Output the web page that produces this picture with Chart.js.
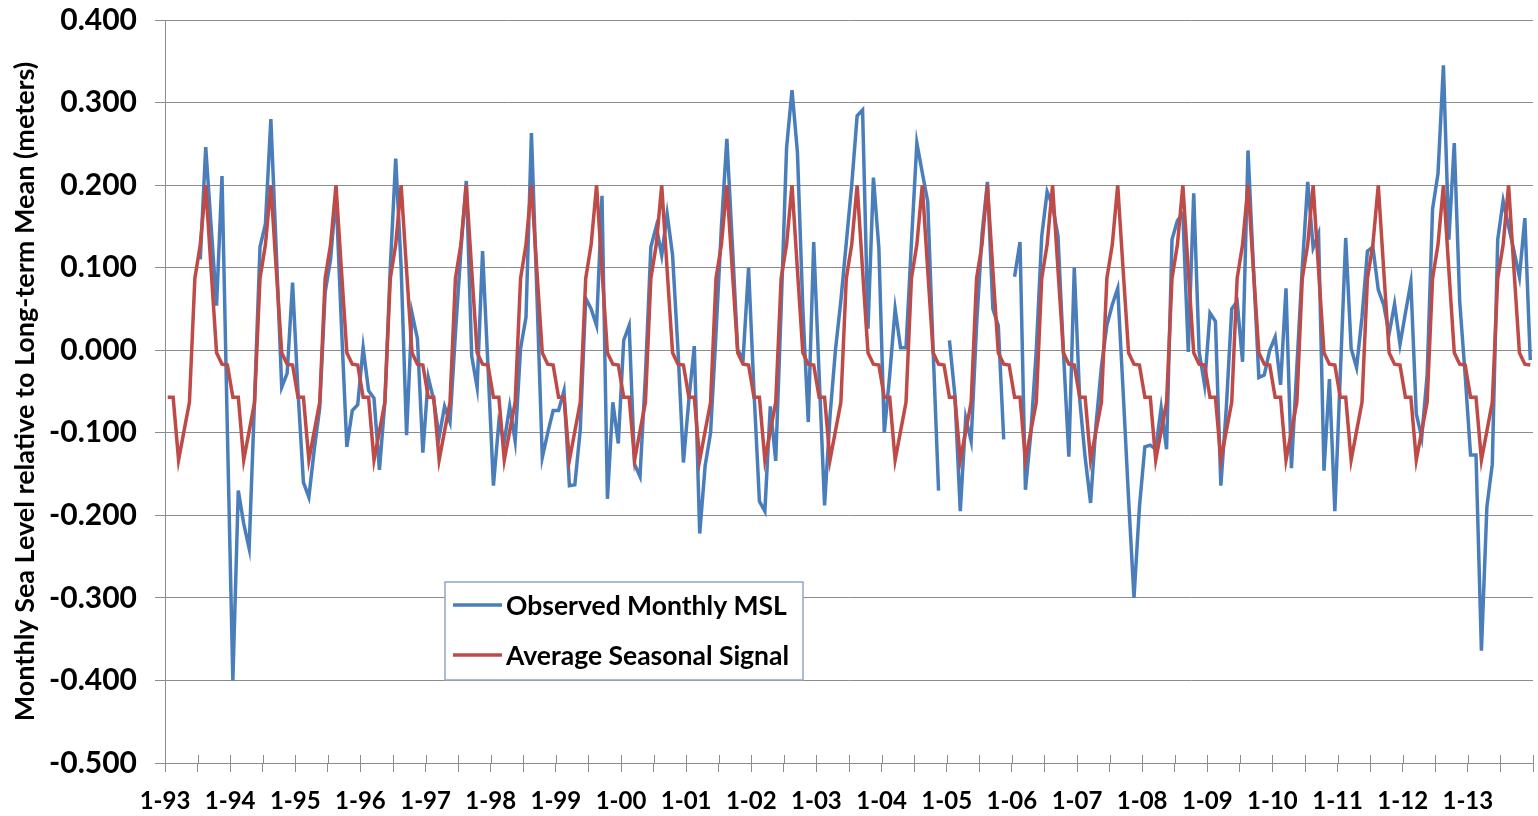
<!DOCTYPE html>
<html>
<head>
<meta charset="utf-8">
<title>Monthly Sea Level</title>
<script src="https://cdn.jsdelivr.net/npm/chart.js@4.4.1/dist/chart.umd.min.js"></script>
<style>
  html, body { margin: 0; padding: 0; background: #fff; }
  #wrap { width: 1538px; height: 816px; position: relative; }
</style>
</head>
<body>
<div id="wrap"><canvas id="mslChart"></canvas></div>
<script>
// tick labels for each January, 1993 .. 2013
const yearLabels = ["1-93", "1-94", "1-95", "1-96", "1-97", "1-98", "1-99", "1-00", "1-01", "1-02",
    "1-03", "1-04", "1-05", "1-06", "1-07", "1-08", "1-09", "1-10", "1-11", "1-12", "1-13"];

// observed monthly mean sea level (m), Jan 1993 .. Dec 2013, one row per year
const observedMSL = [
    null, null, null, null, null, null, 0.110, 0.246, 0.150, 0.054, 0.211, -0.100,
    -0.400, -0.170, -0.210, -0.240, -0.060, 0.125, 0.153, 0.280, 0.120, -0.045, -0.028, 0.082,
    -0.050, -0.160, -0.178, -0.120, -0.070, 0.070, 0.110, 0.190, 0.030, -0.117, -0.073, -0.066,
    0.003, -0.049, -0.058, -0.145, -0.063, 0.100, 0.232, 0.100, -0.103, 0.045, 0.014, -0.124,
    -0.033, -0.060, -0.105, -0.068, -0.087, 0.020, 0.120, 0.205, -0.007, -0.045, 0.120, -0.020,
    -0.164, -0.087, -0.110, -0.068, -0.110, 0.002, 0.040, 0.263, 0.070, -0.130, -0.100, -0.073,
    -0.073, -0.049, -0.164, -0.163, -0.096, 0.063, 0.050, 0.030, 0.187, -0.180, -0.063, -0.113,
    0.012, 0.030, -0.138, -0.153, -0.030, 0.125, 0.150, 0.115, 0.165, 0.115, 0.000, -0.136,
    -0.060, 0.005, -0.222, -0.140, -0.100, 0.020, 0.150, 0.256, 0.130, 0.000, -0.010, 0.100,
    -0.050, -0.183, -0.195, -0.068, -0.134, 0.050, 0.245, 0.315, 0.240, 0.050, -0.087, 0.131,
    -0.030, -0.188, -0.080, 0.000, 0.060, 0.130, 0.200, 0.284, 0.291, 0.026, 0.209, 0.124,
    -0.100, -0.030, 0.050, 0.003, 0.003, 0.130, 0.251, 0.215, 0.180, 0.000, -0.170, null,
    0.012, -0.054, -0.195, -0.082, -0.110, 0.030, 0.140, 0.204, 0.050, 0.030, -0.108, null,
    0.089, 0.131, -0.169, -0.100, 0.000, 0.138, 0.192, 0.175, 0.138, -0.002, -0.129, 0.100,
    -0.060, -0.130, -0.185, -0.090, -0.020, 0.030, 0.055, 0.075, -0.050, -0.180, -0.300, -0.190,
    -0.117, -0.115, -0.120, -0.070, -0.120, 0.134, 0.157, 0.165, -0.002, 0.190, -0.002, -0.042,
    0.045, 0.035, -0.164, -0.070, 0.050, 0.059, -0.014, 0.242, 0.100, -0.033, -0.030, 0.000,
    0.016, -0.042, 0.075, -0.143, -0.020, 0.100, 0.204, 0.124, 0.141, -0.146, -0.035, -0.195,
    -0.030, 0.136, 0.002, -0.021, 0.040, 0.120, 0.125, 0.073, 0.055, 0.020, 0.056, 0.007,
    0.045, 0.082, -0.077, -0.106, -0.030, 0.171, 0.214, 0.345, 0.134, 0.251, 0.059, -0.030,
    -0.127, -0.127, -0.364, -0.190, -0.138, 0.134, 0.181, 0.150, 0.120, 0.089, 0.160, -0.012
];

// average seasonal signal (m), same months
const seasonalSignal = [
    -0.057, -0.057, -0.133, -0.098, -0.063, 0.087, 0.128, 0.200, 0.097, -0.003, -0.017, -0.018,
    -0.057, -0.057, -0.133, -0.098, -0.063, 0.087, 0.128, 0.200, 0.097, -0.003, -0.017, -0.018,
    -0.057, -0.057, -0.133, -0.098, -0.063, 0.087, 0.128, 0.200, 0.097, -0.003, -0.017, -0.018,
    -0.057, -0.057, -0.133, -0.098, -0.063, 0.087, 0.128, 0.200, 0.097, -0.003, -0.017, -0.018,
    -0.057, -0.057, -0.133, -0.098, -0.063, 0.087, 0.128, 0.200, 0.097, -0.003, -0.017, -0.018,
    -0.057, -0.057, -0.133, -0.098, -0.063, 0.087, 0.128, 0.200, 0.097, -0.003, -0.017, -0.018,
    -0.057, -0.057, -0.133, -0.098, -0.063, 0.087, 0.128, 0.200, 0.097, -0.003, -0.017, -0.018,
    -0.057, -0.057, -0.133, -0.098, -0.063, 0.087, 0.128, 0.200, 0.097, -0.003, -0.017, -0.018,
    -0.057, -0.057, -0.133, -0.098, -0.063, 0.087, 0.128, 0.200, 0.097, -0.003, -0.017, -0.018,
    -0.057, -0.057, -0.133, -0.098, -0.063, 0.087, 0.128, 0.200, 0.097, -0.003, -0.017, -0.018,
    -0.057, -0.057, -0.133, -0.098, -0.063, 0.087, 0.128, 0.200, 0.097, -0.003, -0.017, -0.018,
    -0.057, -0.057, -0.133, -0.098, -0.063, 0.087, 0.128, 0.200, 0.097, -0.003, -0.017, -0.018,
    -0.057, -0.057, -0.133, -0.098, -0.063, 0.087, 0.128, 0.200, 0.097, -0.003, -0.017, -0.018,
    -0.057, -0.057, -0.133, -0.098, -0.063, 0.087, 0.128, 0.200, 0.097, -0.003, -0.017, -0.018,
    -0.057, -0.057, -0.133, -0.098, -0.063, 0.087, 0.128, 0.200, 0.097, -0.003, -0.017, -0.018,
    -0.057, -0.057, -0.133, -0.098, -0.063, 0.087, 0.128, 0.200, 0.097, -0.003, -0.017, -0.018,
    -0.057, -0.057, -0.133, -0.098, -0.063, 0.087, 0.128, 0.200, 0.097, -0.003, -0.017, -0.018,
    -0.057, -0.057, -0.133, -0.098, -0.063, 0.087, 0.128, 0.200, 0.097, -0.003, -0.017, -0.018,
    -0.057, -0.057, -0.133, -0.098, -0.063, 0.087, 0.128, 0.200, 0.097, -0.003, -0.017, -0.018,
    -0.057, -0.057, -0.133, -0.098, -0.063, 0.087, 0.128, 0.200, 0.097, -0.003, -0.017, -0.018,
    -0.057, -0.057, -0.133, -0.098, -0.063, 0.087, 0.128, 0.200, 0.097, -0.003, -0.017, -0.018
];

const seriesNames = ["Observed Monthly MSL", "Average Seasonal Signal"];
const yAxisTitle = "Monthly Sea Level relative to Long-term Mean (meters)";

const blueLine = "#4a7ebb";
const redLine = "#be4b48";
const gridGrey = "#8c8c8c";

Chart.defaults.font.family = "Lato";
Chart.defaults.color = "#000";

// points sit in the middle of each month, ticks on month boundaries
function toPoints(values) {
    return values.map((v, i) => ({ x: i + 0.5, y: v }));
}

// legend box drawn inside the plot, like the spreadsheet original
const boxLegend = {
    id: "boxLegend",
    afterDraw(chart) {
        const ctx = chart.ctx;
        const area = chart.chartArea;
        const x0 = area.left + 280;
        const y0 = area.top + 562;
        const w = 358, h = 98;

        ctx.save();
        ctx.fillStyle = "#fff";
        ctx.fillRect(x0, y0, w, h);
        ctx.strokeStyle = "#8ea7c7";
        ctx.lineWidth = 1.5;
        ctx.strokeRect(x0, y0, w, h);

        chart.data.datasets.forEach((ds, k) => {
            const ly = y0 + 23 + k * 50;
            ctx.strokeStyle = ds.borderColor;
            ctx.lineWidth = 3.5;
            ctx.beginPath();
            ctx.moveTo(x0 + 8, ly);
            ctx.lineTo(x0 + 57, ly);
            ctx.stroke();

            ctx.fillStyle = "#000";
            ctx.font = "bold 26.5px Lato";
            ctx.textBaseline = "middle";
            ctx.fillText(ds.label, x0 + 61, ly + 1);
        });
        ctx.restore();
    }
};

// x tick marks in the original cross the axis line; add the upper half
const crossTicks = {
    id: "crossTicks",
    afterDraw(chart) {
        const xs = chart.scales.x;
        const ctx = chart.ctx;
        ctx.save();
        ctx.strokeStyle = gridGrey;
        ctx.lineWidth = 1;
        xs.ticks.forEach(t => {
            const px = Math.round(xs.getPixelForValue(t.value)) + 0.5;
            ctx.beginPath();
            ctx.moveTo(px, xs.top - 8);
            ctx.lineTo(px, xs.top);
            ctx.stroke();
        });
        ctx.restore();
    }
};

new Chart(document.getElementById("mslChart"), {
    type: "line",
    data: {
        datasets: [{
            label: seriesNames[0],
            data: toPoints(observedMSL),
            borderColor: blueLine,
            borderWidth: 3.5,
            pointRadius: 0,
            spanGaps: false,
            tension: 0,
            order: 2
        }, {
            label: seriesNames[1],
            data: toPoints(seasonalSignal),
            borderColor: redLine,
            borderWidth: 3.5,
            pointRadius: 0,
            tension: 0,
            order: 1
        }]
    },
    options: {
        responsive: true,
        maintainAspectRatio: false,
        animation: false,
        layout: { padding: { left: 0, right: 5, top: 20, bottom: 0 } },
        plugins: {
            legend: { display: false },
            tooltip: { enabled: false }
        },
        scales: {
            x: {
                type: "linear",
                min: 0,
                max: observedMSL.length,
                afterFit(scale) {
                    scale.height = 53;
                    scale.paddingLeft = 0;
                    scale.paddingRight = 0;
                },
                grid: {
                    drawOnChartArea: false,
                    drawTicks: true,
                    tickLength: 9,
                    color: gridGrey
                },
                border: { color: gridGrey, width: 1 },
                ticks: {
                    stepSize: 6,
                    autoSkip: false,
                    maxRotation: 0,
                    maxTicksLimit: 100,
                    padding: 15,
                    font: { size: 24, weight: "bold" },
                    callback(value) {
                        if (value % 12 !== 0) return "";
                        return yearLabels[value / 12] || "";
                    }
                }
            },
            y: {
                min: -0.5,
                max: 0.4,
                afterFit(scale) {
                    scale.width = 165;
                    scale.paddingTop = 0;
                    scale.paddingBottom = 0;
                },
                grid: {
                    color: gridGrey,
                    lineWidth: 1,
                    tickLength: 10
                },
                border: { color: gridGrey, width: 1 },
                ticks: {
                    stepSize: 0.1,
                    padding: 18,
                    font: { size: 30, weight: "bold" },
                    callback(value) {
                        const v = Math.abs(value) < 1e-9 ? 0 : value;
                        return v.toFixed(3);
                    }
                },
                title: {
                    display: true,
                    text: yAxisTitle,
                    font: { size: 27, weight: "bold" },
                    padding: { top: 9, bottom: 0 }
                }
            }
        }
    },
    plugins: [boxLegend, crossTicks]
});
</script>
</body>
</html>
